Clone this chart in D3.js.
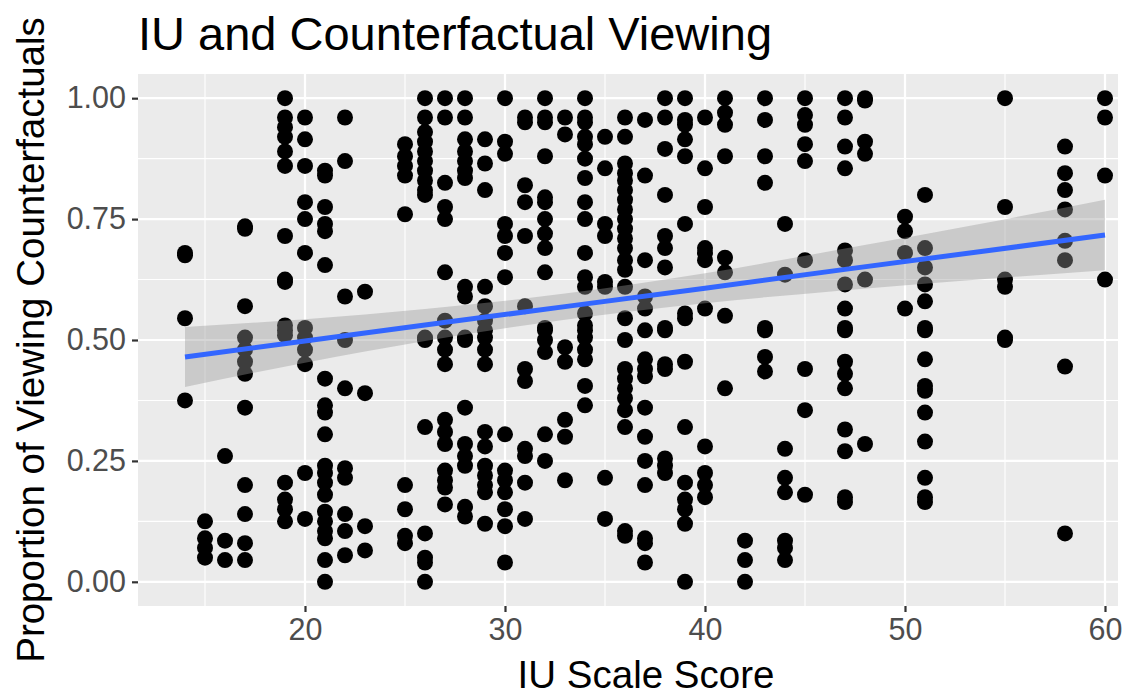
<!DOCTYPE html>
<html>
<head>
<meta charset="utf-8">
<script src="https://cdn.jsdelivr.net/npm/d3@7"></script>
<style>
  body { margin: 0; background: #fff; }
  text { font-family: "Liberation Sans", Arial, Helvetica, sans-serif; }
</style>
</head>
<body>
<svg id="chart-svg" width="1144" height="696"></svg>
<script>
// IU scale score columns and the viewing proportions read at each score
const iuScores = [14, 15, 16, 17, 19, 20, 21, 22, 23, 25, 26, 27, 28, 29, 30, 31, 32, 33, 34, 35,
  36, 37, 38, 39, 40, 41, 42, 43, 44, 45, 47, 48, 50, 51, 55, 58, 60];
const viewingProps = [
  [0.68, 0.675, 0.545, 0.375],
  [0.125, 0.09, 0.07, 0.05],
  [0.26, 0.085, 0.045],
  [0.735, 0.73, 0.57, 0.505, 0.48, 0.455, 0.43, 0.36, 0.20, 0.14, 0.08, 0.045],
  [1.00, 0.96, 0.94, 0.92, 0.89, 0.86, 0.715, 0.625, 0.62, 0.53, 0.52, 0.51, 0.205, 0.17, 0.15, 0.125],
  [0.96, 0.915, 0.86, 0.785, 0.75, 0.68, 0.525, 0.505, 0.48, 0.45, 0.225, 0.13],
  [0.85, 0.84, 0.775, 0.74, 0.725, 0.655, 0.42, 0.365, 0.35, 0.305, 0.24, 0.225, 0.205, 0.18, 0.145, 0.125, 0.105, 0.09, 0.045, 0.0],
  [0.96, 0.87, 0.59, 0.50, 0.40, 0.235, 0.215, 0.14, 0.105, 0.055],
  [0.60, 0.39, 0.115, 0.065],
  [0.905, 0.88, 0.86, 0.84, 0.76, 0.20, 0.15, 0.095, 0.08],
  [1.0, 0.96, 0.93, 0.91, 0.89, 0.87, 0.85, 0.83, 0.81, 0.80, 0.505, 0.50, 0.32, 0.10, 0.05, 0.04, 0.0],
  [1.0, 0.96, 0.825, 0.775, 0.75, 0.64, 0.54, 0.505, 0.48, 0.45, 0.335, 0.31, 0.285, 0.23, 0.21, 0.195, 0.16],
  [1.0, 0.96, 0.915, 0.89, 0.87, 0.85, 0.835, 0.61, 0.59, 0.505, 0.50, 0.36, 0.285, 0.26, 0.24, 0.155, 0.135],
  [0.915, 0.865, 0.81, 0.61, 0.57, 0.54, 0.52, 0.505, 0.48, 0.45, 0.31, 0.28, 0.24, 0.22, 0.20, 0.185, 0.12],
  [1.0, 0.91, 0.885, 0.74, 0.715, 0.68, 0.63, 0.305, 0.23, 0.21, 0.185, 0.15, 0.115, 0.04],
  [0.96, 0.95, 0.82, 0.785, 0.715, 0.57, 0.44, 0.415, 0.275, 0.26, 0.205, 0.13],
  [1.0, 0.96, 0.95, 0.88, 0.795, 0.785, 0.75, 0.72, 0.69, 0.64, 0.525, 0.52, 0.50, 0.475, 0.305, 0.25],
  [0.96, 0.925, 0.485, 0.455, 0.335, 0.30, 0.21],
  [1.0, 0.96, 0.95, 0.92, 0.905, 0.875, 0.835, 0.785, 0.75, 0.68, 0.63, 0.61, 0.555, 0.53, 0.52, 0.505, 0.48, 0.46, 0.405, 0.365],
  [0.92, 0.855, 0.74, 0.715, 0.62, 0.61, 0.215, 0.13],
  [0.96, 0.92, 0.865, 0.845, 0.83, 0.81, 0.79, 0.77, 0.75, 0.73, 0.71, 0.69, 0.665, 0.645, 0.61, 0.545, 0.50, 0.44, 0.42, 0.40, 0.38, 0.355, 0.32, 0.105, 0.095],
  [0.955, 0.84, 0.665, 0.59, 0.565, 0.52, 0.46, 0.44, 0.425, 0.36, 0.30, 0.25, 0.20, 0.09, 0.08, 0.04],
  [1.0, 0.96, 0.895, 0.80, 0.715, 0.69, 0.65, 0.525, 0.52, 0.45, 0.44, 0.255, 0.24, 0.225],
  [1.0, 0.955, 0.945, 0.915, 0.88, 0.74, 0.555, 0.545, 0.455, 0.32, 0.205, 0.17, 0.15, 0.12, 0.0],
  [0.96, 0.855, 0.775, 0.69, 0.68, 0.665, 0.565, 0.28, 0.225, 0.20, 0.175],
  [1.0, 0.97, 0.945, 0.88, 0.67, 0.64, 0.55, 0.40],
  [0.085, 0.045, 0.0],
  [1.0, 0.955, 0.88, 0.825, 0.525, 0.52, 0.465, 0.435],
  [0.74, 0.635, 0.275, 0.215, 0.185, 0.085, 0.07, 0.045],
  [1.0, 0.965, 0.945, 0.905, 0.87, 0.665, 0.44, 0.355, 0.18],
  [1.0, 0.96, 0.90, 0.855, 0.685, 0.665, 0.615, 0.565, 0.525, 0.52, 0.455, 0.43, 0.40, 0.315, 0.27, 0.175, 0.165],
  [1.0, 0.995, 0.91, 0.885, 0.625, 0.285],
  [0.755, 0.725, 0.68, 0.565],
  [0.80, 0.69, 0.65, 0.615, 0.58, 0.525, 0.52, 0.46, 0.405, 0.395, 0.35, 0.29, 0.215, 0.175, 0.165],
  [1.0, 0.775, 0.625, 0.61, 0.505, 0.50],
  [0.90, 0.845, 0.81, 0.77, 0.705, 0.665, 0.445, 0.10],
  [1.0, 0.96, 0.84, 0.625]
];

// linear smooth and its confidence band
const smoothX = [14, 20, 26, 33, 40, 47, 54, 60];
const smoothFit = [0.465, 0.498, 0.531, 0.569, 0.607, 0.646, 0.684, 0.717];
const smoothLo = [0.403, 0.453, 0.498, 0.542, 0.576, 0.603, 0.626, 0.644];
const smoothHi = [0.527, 0.543, 0.564, 0.596, 0.638, 0.689, 0.742, 0.790];

const xTicks = [20, 30, 40, 50, 60];
const yTicks = [0, 0.25, 0.5, 0.75, 1];

const svg = d3.select("#chart-svg");
const margin = { left: 138, right: 26, top: 74, bottom: 90 };
const width = 1144, height = 696;

const points = [];
iuScores.forEach((s, i) => viewingProps[i].forEach(v => points.push({ x: s, y: v })));
const band = smoothX.map((x, i) => ({ x: x, fit: smoothFit[i], lo: smoothLo[i], hi: smoothHi[i] }));

const xScale = d3.scaleLinear().domain([11.65, 60.65]).range([margin.left, width - margin.right]);
const yScale = d3.scaleLinear().domain([-0.05, 1.05]).range([height - margin.bottom, margin.top]);

const panel = svg.append("g");
panel.append("rect")
  .attr("x", xScale.range()[0]).attr("y", yScale.range()[1])
  .attr("width", xScale.range()[1] - xScale.range()[0])
  .attr("height", yScale.range()[0] - yScale.range()[1])
  .attr("fill", "#EBEBEB");

// minor grid
const xMinor = [15, 25, 35, 45, 55];
const yMinor = [0.125, 0.375, 0.625, 0.875];
panel.selectAll(".xminor").data(xMinor).join("line")
  .attr("x1", d => xScale(d)).attr("x2", d => xScale(d))
  .attr("y1", yScale.range()[1]).attr("y2", yScale.range()[0])
  .attr("stroke", "#fff").attr("stroke-width", 1.1);
panel.selectAll(".yminor").data(yMinor).join("line")
  .attr("y1", d => yScale(d)).attr("y2", d => yScale(d))
  .attr("x1", xScale.range()[0]).attr("x2", xScale.range()[1])
  .attr("stroke", "#fff").attr("stroke-width", 1.1);
// major grid
panel.selectAll(".xmajor").data(xTicks).join("line")
  .attr("x1", d => xScale(d)).attr("x2", d => xScale(d))
  .attr("y1", yScale.range()[1]).attr("y2", yScale.range()[0])
  .attr("stroke", "#fff").attr("stroke-width", 2.2);
panel.selectAll(".ymajor").data(yTicks).join("line")
  .attr("y1", d => yScale(d)).attr("y2", d => yScale(d))
  .attr("x1", xScale.range()[0]).attr("x2", xScale.range()[1])
  .attr("stroke", "#fff").attr("stroke-width", 2.2);

svg.append("g").selectAll("circle").data(points).join("circle")
  .attr("cx", d => xScale(d.x))
  .attr("cy", d => yScale(d.y))
  .attr("r", 8)
  .attr("fill", "#000");

const ribbon = d3.area()
  .x(d => xScale(d.x))
  .y0(d => yScale(d.lo))
  .y1(d => yScale(d.hi))
  .curve(d3.curveMonotoneX);
svg.append("path").datum(band)
  .attr("d", ribbon)
  .attr("fill", "#999999").attr("fill-opacity", 0.4);

const fitLine = d3.line().x(d => xScale(d.x)).y(d => yScale(d.fit));
svg.append("path").datum(band)
  .attr("d", fitLine)
  .attr("fill", "none").attr("stroke", "#3366FF").attr("stroke-width", 5);

// axes
const xAxis = svg.append("g")
  .attr("transform", `translate(0, ${yScale.range()[0]})`)
  .call(d3.axisBottom(xScale).tickValues(xTicks).tickSize(6).tickPadding(6));
const yAxis = svg.append("g")
  .attr("transform", `translate(${xScale.range()[0]}, 0)`)
  .call(d3.axisLeft(yScale).tickValues(yTicks).tickFormat(d3.format(".2f")).tickSize(6).tickPadding(6));
[xAxis, yAxis].forEach(a => {
  a.select(".domain").remove();
  a.selectAll(".tick line").attr("stroke", "#333333").attr("stroke-width", 2.2);
  a.selectAll(".tick text").attr("fill", "#4D4D4D").style("font-size", "30.5px")
    .style("font-family", "'Liberation Sans', Arial, Helvetica, sans-serif");
});

svg.append("text")
  .attr("x", 138).attr("y", 50)
  .style("font-size", "47px").attr("fill", "#000")
  .text("IU and Counterfactual Viewing");

svg.append("text")
  .attr("x", 646).attr("y", 688)
  .attr("text-anchor", "middle")
  .style("font-size", "38.5px").attr("fill", "#000")
  .text("IU Scale Score");

svg.append("text")
  .attr("transform", `translate(44, ${(yScale.range()[0] + yScale.range()[1]) / 2}) rotate(-90)`)
  .attr("text-anchor", "middle")
  .style("font-size", "38.5px").attr("fill", "#000")
  .text("Proportion of Viewing Counterfactuals");
</script>
</body>
</html>
